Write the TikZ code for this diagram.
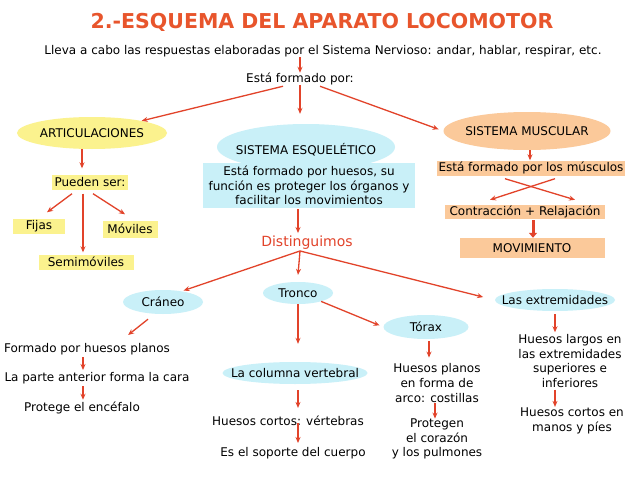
\documentclass[tikz,border=0pt]{standalone}
\usepackage{fontspec}
\setmainfont{DejaVu Sans}
\usetikzlibrary{shapes.geometric,arrows.meta,calc}
\definecolor{redc}{HTML}{E2432A}
\definecolor{titlec}{HTML}{E8552C}
\definecolor{yel}{HTML}{FBF28E}
\definecolor{blu}{HTML}{C9F0F8}
\definecolor{pea}{HTML}{FBC99A}
\begin{document}
\begin{tikzpicture}[x=1pt,y=-1pt,
  every node/.style={font=\fontsize{12}{14.6}\selectfont, inner sep=0pt, align=center},
  arr/.style={draw=redc, line width=1.3pt, -{Stealth[length=6pt,width=5pt]}},
  thick arr/.style={draw=redc, line width=3pt, -{Triangle[length=5pt,width=8pt]}},
  ov/.style n args={3}{ellipse, minimum width=#1, minimum height=#2, label=center:{#3}},
  bx/.style 2 args={rectangle, minimum width=#1, minimum height=#2},
  yov/.style={fill=yel},
  bov/.style={fill=blu},
  pov/.style={fill=pea}
]
\fill[white] (0,0) rectangle (638,479);
\useasboundingbox (0,0) rectangle (638,479);

% title and intro
\node[text=titlec, font=\fontsize{20.5}{22}\selectfont\bfseries] (title) at (322,22) {2.-ESQUEMA DEL APARATO LOCOMOTOR};
\node (sub) at (323,51) {Lleva a cabo las respuestas elaboradas por el Sistema Nervioso: andar, hablar, respirar, etc.};
\node (esta) at (300,79) {Está formado por:};

% Articulaciones
\node[ov={150}{32}{ARTICULACIONES}, yov] (artic) at (92,133) {};
\node[bx={76}{15}, yov] (pueden) at (90,182) {Pueden ser:};
\node[bx={52}{15}, yov] (fijas) at (39,226) {Fijas};
\node[bx={55}{17}, yov] (moviles) at (130,229) {Móviles};
\node[bx={95}{15}, yov] (semi) at (86,262) {Semimóviles};

% Sistema esqueletico
\node[ov={178}{46}{}, bov] (esq) at (306,147) {};
\node at (306,150) {SISTEMA ESQUELÉTICO};
\node[bx={212}{45}, bov] (esqbox) at (309,185.5) {Está formado por huesos, su\\función es proteger los órganos y\\facilitar los movimientos};
\node[text=redc, font=\fontsize{14}{16}\selectfont] (dist) at (307,243) {Distinguimos};

% Sistema muscular
\node[ov={167}{38}{SISTEMA MUSCULAR}, pov] (musc) at (527,131) {};
\node[bx={188}{15}, pov] (muscbox) at (531,168) {Está formado por los músculos};
\node[bx={160}{14}, pov] (contr) at (525,212) {Contracción + Relajación};
\node[bx={145}{20}, pov] (movim) at (532,248) {MOVIMIENTO};

% Craneo
\node[ov={80}{24}{Cráneo}, bov] (craneo) at (163,302) {};
\node (cr1) at (87,349) {Formado por huesos planos};
\node (cr2) at (97,378) {La parte anterior forma la cara};
\node (cr3) at (82,408) {Protege el encéfalo};

% Tronco
\node[ov={70}{22}{Tronco}, bov] (tronco) at (298,293) {};
\node[ov={85}{24}{Tórax}, bov] (torax) at (426,327) {};
\node[ov={145}{22}{La columna vertebral}, bov] (col) at (295,373) {};
\node (col1) at (288,421) {Huesos cortos: vértebras};
\node (col2) at (293,453) {Es el soporte del cuerpo};
\node (tor1) at (437,383) {Huesos planos\\en forma de\\arco: costillas};
\node (tor2) at (437,439) {Protegen\\el corazón\\y los pulmones};

% Extremidades
\node[ov={120}{22}{Las extremidades}, bov] (ext) at (555,300) {};
\node (ext1) at (570,361) {Huesos largos en\\las extremidades\\superiores e\\inferiores};
\node (ext2) at (572,421) {Huesos cortos en\\manos y píes};

% connectors - top
\draw[arr] (esta.north |- sub.south) -- (esta.north);
\draw[arr] ($(esta.south)+(-17,1)$) -- (artic);
\draw[arr, shorten >=10pt] (esta.south) -- (esta.south |- esq.north);
\draw[arr, shorten >=5pt] ($(esta.south)+(20,1)$) -- (musc.west);

% articulaciones
\draw[arr] ($(artic.south)+(-10,0)$) -- ($(pueden.north)+(-8,-6)$);
\draw[arr] ($(pueden.south)+(-18,4)$) -- ($(fijas.north)+(8,-6)$);
\draw[arr] ($(pueden.south)+(-7,4)$) -- ($(semi.north)+(-3,-2)$);
\draw[arr] ($(pueden.south)+(3,4)$) -- ($(moviles.north)+(-5,-6)$);

% esqueletico
\draw[arr] ($(esqbox.south)+(-11,1)$) -- ($(dist.north)+(-9,-3)$);
\draw[arr, shorten >=2pt] ($(dist.south)+(-7,1)$) -- (craneo.30);
\draw[arr] ($(dist.south)+(-7,1)$) -- ($(tronco.north)+(0,-7)$);
\draw[arr, shorten >=12pt] ($(dist.south)+(-7,1)$) -- (ext.west);

% muscular
\draw[arr] ($(musc.south)+(3,0)$) -- ($(muscbox.north)+(-1,0)$);
\draw[arr] ($(muscbox.south)+(-26,3)$) -- ($(contr.north)+(50,-5)$);
\draw[arr] ($(muscbox.south)+(24,3)$) -- ($(contr.north)+(-35,-5)$);
\draw[thick arr] ($(contr.south)+(8,1)$) -- ($(movim.north)+(1,0)$);

% craneo
\draw[arr] ($(craneo.south)+(-15,5)$) -- ($(cr1.north east)+(-42,-8)$);
\draw[arr] ($(cr1.south)+(-4,2)$) -- ($(cr2.north)+(-14,-2)$);
\draw[arr] ($(cr2.south)+(-14,2)$) -- ($(cr3.north)+(1,-2)$);

% tronco
\draw[arr, shorten >=18pt] (tronco.south) -- (tronco.south |- col.north);
\draw[arr, shorten >=4pt] (tronco.-20) -- (torax.west);
\draw[arr] ($(col.south)+(3,6)$) -- ($(col1.north)+(10,-8)$);
\draw[arr] ($(col1.south)+(10,-3)$) -- ($(col2.north)+(5,-4)$);
\draw[arr] ($(torax.south)+(3,2)$) -- ($(tor1.north)+(-8,-6)$);
\draw[arr] ($(tor1.south)+(-2,1)$) -- ($(tor2.north)+(-2,0)$);

% extremidades
\draw[arr] ($(ext.south)+(0,3)$) -- ($(ext1.north)+(-15,-2)$);
\draw[arr] ($(ext1.south)+(-15,2)$) -- ($(ext2.north)+(-17,-1)$);
\end{tikzpicture}
\end{document}
